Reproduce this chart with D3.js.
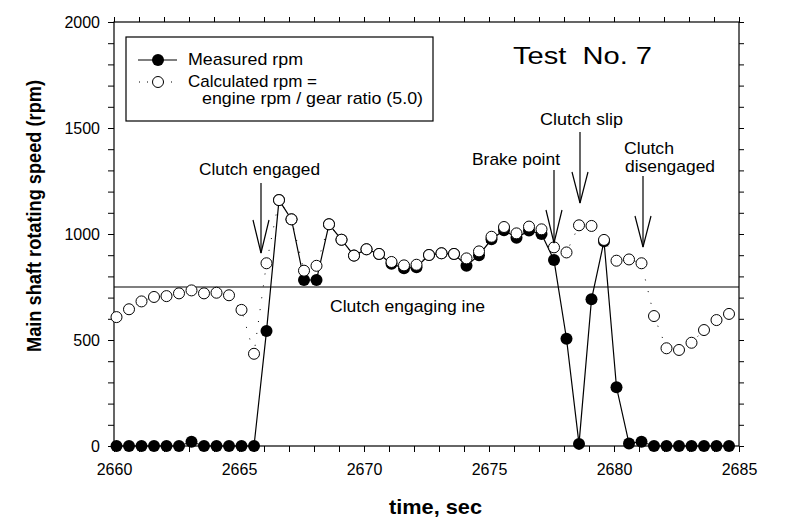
<!DOCTYPE html>
<html><head><meta charset="utf-8">
<script src="https://cdn.jsdelivr.net/npm/d3@7"></script>
<style>
body{margin:0;background:#fff;}
text{font-family:"Liberation Sans",Arial,sans-serif;fill:#000;}
</style></head>
<body><svg id="c" width="788" height="529"></svg>
<script>
const times = [2660.1,2660.6,2661.1,2661.6,2662.1,2662.6,2663.1,2663.6,2664.1,2664.6,
  2665.1,2665.6,2666.1,2666.6,2667.1,2667.6,2668.1,2668.6,2669.1,2669.6,
  2670.1,2670.6,2671.1,2671.6,2672.1,2672.6,2673.1,2673.6,2674.1,2674.6,
  2675.1,2675.6,2676.1,2676.6,2677.1,2677.6,2678.1,2678.6,2679.1,2679.6,
  2680.1,2680.6,2681.1,2681.6,2682.1,2682.6,2683.1,2683.6,2684.1,2684.6];
const measured = [0,0,0,0,0,0,20,0,0,0,
  0,0,542,1160,1069,783,783,1046,973,898,
  928,906,860,838,843,901,909,906,850,900,
  975,1018,982,1016,1000,877,506,10,692,966,
  277,12,20,0,0,0,0,0,0,0];
const calculated = [608,645,682,703,707,720,734,720,723,711,
  642,435,862,1160,1069,827,850,1046,973,898,
  928,906,868,852,855,901,909,906,885,918,
  987,1033,1003,1035,1022,937,913,1041,1038,972,
  874,880,862,613,461,453,487,547,594,623];
const xMajor = [2660,2665,2670,2675,2680,2685];
const yMajor = [0,500,1000,1500,2000];
const engagingLine = 750;
const seriesNames = ["Measured rpm","Calculated rpm =","engine rpm / gear ratio (5.0)"];

const svg = d3.select("#c");
const L=114,R=739,T=22,B=446;
const x = d3.scaleLinear().domain([2660,2685]).range([L,R]);
const y = d3.scaleLinear().domain([0,2000]).range([B,T]);

function txt(g, px, py, s, size, w, opts={}) {
  const t = g.append("text").attr("x",px).attr("y",py).attr("font-size",size).text(s);
  if (w) t.attr("textLength",w).attr("lengthAdjust","spacingAndGlyphs");
  if (opts.weight) t.attr("font-weight",opts.weight);
  if (opts.anchor) t.attr("text-anchor",opts.anchor);
  if (opts.transform) t.attr("transform",opts.transform);
  return t;
}

// axes
const minorX = d3.range(2660,2686,1);
const minorY = d3.range(0,2001,100);
function styleAxis(g){ g.select(".domain").remove(); g.selectAll("line").attr("stroke","#000"); g.selectAll("text").attr("font-size",16).attr("font-family","Liberation Sans, Arial, sans-serif"); }
svg.append("g").attr("transform",`translate(0,${B})`).call(d3.axisBottom(x).tickValues(minorX).tickFormat("").tickSize(6)).call(styleAxis);
svg.append("g").attr("transform",`translate(0,${B})`).call(d3.axisBottom(x).tickValues(xMajor).tickFormat(d3.format("d")).tickSize(6).tickPadding(12)).call(styleAxis);
svg.append("g").attr("transform",`translate(0,${T})`).call(d3.axisTop(x).tickValues(minorX).tickFormat("").tickSize(5)).call(styleAxis);
svg.append("g").attr("transform",`translate(${L},0)`).call(d3.axisLeft(y).tickValues(minorY).tickFormat("").tickSize(6)).call(styleAxis);
svg.append("g").attr("transform",`translate(${L},0)`).call(d3.axisLeft(y).tickValues(yMajor).tickFormat(d3.format("d")).tickSize(6).tickPadding(8)).call(styleAxis);
svg.append("g").attr("transform",`translate(${R},0)`).call(d3.axisRight(y).tickValues(minorY).tickFormat("").tickSize(5)).call(styleAxis);
svg.append("rect").attr("x",L).attr("y",T).attr("width",R-L).attr("height",B-T).attr("fill","none").attr("stroke","#000").attr("stroke-width",1.2);

// engaging line
svg.append("line").attr("x1",L).attr("x2",R).attr("y1",y(engagingLine)).attr("y2",y(engagingLine)).attr("stroke","#000").attr("stroke-width",1.1);

// measured
const line = d3.line().x((d,i)=>x(times[i])).y(d=>y(d));
svg.append("path").datum(measured).attr("d",line).attr("fill","none").attr("stroke","#000").attr("stroke-width",1.2);
svg.append("g").selectAll("circle").data(measured).join("circle")
  .attr("cx",(d,i)=>x(times[i])).attr("cy",d=>y(d)).attr("r",6).attr("fill","#000");
// calculated
svg.append("path").datum(calculated).attr("d",line).attr("fill","none").attr("stroke","#000").attr("stroke-width",1).attr("stroke-dasharray","1,11");
svg.append("g").selectAll("circle").data(calculated).join("circle")
  .attr("cx",(d,i)=>x(times[i])).attr("cy",d=>y(d)).attr("r",5.5).attr("fill","#fff").attr("stroke","#000").attr("stroke-width",1);

// legend
const lg = svg.append("g");
lg.append("rect").attr("x",126).attr("y",37).attr("width",307).attr("height",84).attr("fill","#fff").attr("stroke","#000").attr("stroke-width",1.2);
lg.append("line").attr("x1",138).attr("x2",177).attr("y1",60).attr("y2",60).attr("stroke","#000").attr("stroke-width",1.2);
lg.append("circle").attr("cx",158).attr("cy",60).attr("r",6).attr("fill","#000");
lg.append("line").attr("x1",139).attr("x2",178).attr("y1",82).attr("y2",82).attr("stroke","#000").attr("stroke-dasharray","1,7");
lg.append("circle").attr("cx",158).attr("cy",82).attr("r",5.5).attr("fill","#fff").attr("stroke","#000");
txt(lg,188,65,seriesNames[0],17,115);
txt(lg,188,87,seriesNames[1],17,129);
txt(lg,202,104,seriesNames[2],17,221);

// title
txt(svg,513,64,"Test\u00a0 No. 7",24,139);

// annotations
const ann = svg.append("g");
function arrow(ax, y0, tip, headY, half){
  ann.append("line").attr("x1",ax).attr("x2",ax).attr("y1",y0).attr("y2",tip).attr("stroke","#000").attr("stroke-width",1.2);
  ann.append("path").attr("d",`M${ax-half},${headY}L${ax},${tip}L${ax+half},${headY}`).attr("fill","none").attr("stroke","#000").attr("stroke-width",1.2);
}
txt(ann,199,175,"Clutch engaged",17,121);
arrow(261,183,253,220,8);
txt(ann,472,165,"Brake point",17,88);
arrow(554,170,243,210,8);
txt(ann,540,125,"Clutch slip",17,83);
arrow(580,132,203,172,8);
txt(ann,624,154,"Clutch",17,50);
txt(ann,625,172,"disengaged",17,90);
arrow(643,176,247,216,8);
txt(ann,330,312,"Clutch engaging ine",17,155);

// axis titles
txt(svg,389,514,"time, sec",21,93,{weight:"bold"});
txt(svg,0,0,"Main shaft rotating speed (rpm)",21,272,{weight:"bold",anchor:"middle",transform:"translate(41,216) rotate(-90)"});
</script></body></html>
